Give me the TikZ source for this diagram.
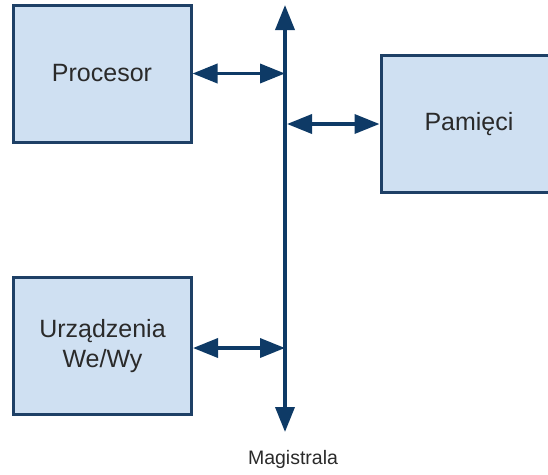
\documentclass[tikz,border=0pt]{standalone}
\usepackage{fontspec}
\setmainfont{Liberation Sans}
\usetikzlibrary{arrows.meta}
\definecolor{boxfill}{HTML}{CFE0F2}
\definecolor{boxline}{HTML}{1E4066}
\definecolor{arrowc}{HTML}{0E3A66}
\definecolor{txt}{HTML}{2A2A2A}
\tikzset{
  unitbox/.style={draw=boxline, line width=3pt, fill=boxfill, rectangle,
    minimum width=178pt, minimum height=137pt, inner sep=0pt,
    text=txt, font=\fontsize{25}{30}\selectfont, align=center},
  busline/.style={draw=arrowc, line width=3.6pt,
    arrows={Triangle[length=25pt,width=19pt]-Triangle[length=25pt,width=19pt]}},
}
\begin{document}
\begin{tikzpicture}[x=1pt,y=-1pt]
\useasboundingbox (0,0) rectangle (548,474);
\node[unitbox] (proc) at (102,73.5) {Procesor};
\node[unitbox, minimum width=180pt] (mem) at (471,124) {\hspace*{-4pt}Pamięci};
\node[unitbox] (io) at (102.5,346) {Urządzenia\\We/Wy};
\coordinate (bustop) at (285,5);
\coordinate (busbot) at (285,432);
\coordinate (bp) at (285,73.5);
\coordinate (bm) at (287,124);
\coordinate (bi) at (285,348);
\draw[busline] (busbot) -- (bustop);
\draw[busline] (proc.east |- bp) -- (bp);
\draw[busline] (bm) -- (mem.west |- bm);
\draw[busline] (io.east |- bi) -- (bi);
\node[text=txt, font=\fontsize{19.5}{22}\selectfont] (mag) at (293,459) {Magistrala};
\end{tikzpicture}
\end{document}
